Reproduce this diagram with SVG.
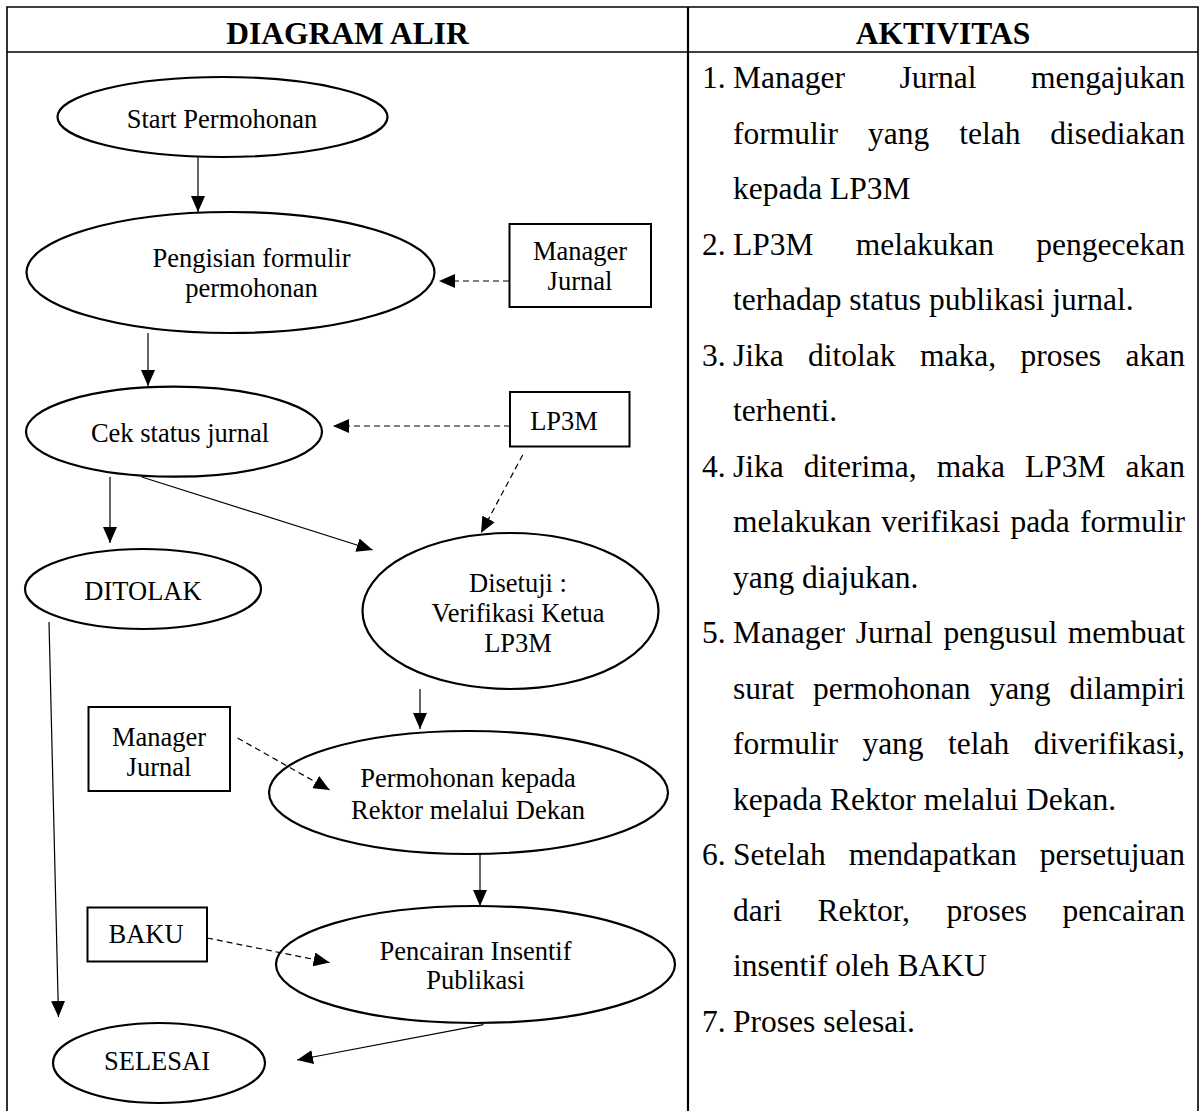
<svg xmlns="http://www.w3.org/2000/svg" width="1202" height="1111" viewBox="0 0 1202 1111">
<defs>
<marker id="ah" viewBox="0 0 16 14" refX="16" refY="7" markerWidth="16" markerHeight="14" markerUnits="userSpaceOnUse" orient="auto">
<path d="M0,0 L16,7 L0,14 Z" fill="#000"/>
</marker>
</defs>
<style>
.tbl{stroke:#000;stroke-width:1.6;fill:none}
.node{fill:#fff;stroke:#000;stroke-width:2.2}
.box{fill:#fff;stroke:#000;stroke-width:2}
.t{font-family:"Liberation Serif","Times New Roman",serif;font-size:26.5px;fill:#000;text-anchor:middle}
.h{font-family:"Liberation Serif","Times New Roman",serif;font-size:31.5px;font-weight:bold;fill:#000;text-anchor:middle}
.r{font-family:"Liberation Serif","Times New Roman",serif;font-size:31.5px;fill:#000}
.e{text-anchor:end}
.c{stroke:#000;stroke-width:1.2;fill:none;marker-end:url(#ah)}
.d{stroke:#000;stroke-width:1.2;fill:none;stroke-dasharray:6 4;marker-end:url(#ah)}
</style>
<rect width="1202" height="1111" fill="#fff"/>
<g id="table">
<path class="tbl" d="M7,1111 V7 H1198 V1111 M7,52 H1198"/>
<path d="M688,7 V1111" stroke="#000" stroke-width="2.2" fill="none"/>
<text class="h" x="347.5" y="44">DIAGRAM ALIR</text>
<text class="h" x="943" y="44">AKTIVITAS</text>
</g>
<g id="start"><ellipse class="node" cx="222.5" cy="117" rx="165" ry="40"/><text class="t" x="222" y="128">Start Permohonan</text></g>
<g id="pengisian"><ellipse class="node" cx="230.5" cy="272.5" rx="204" ry="60.5"/><text class="t" x="251.5" y="267">Pengisian formulir</text><text class="t" x="251.5" y="297">permohonan</text></g>
<g id="manager1"><rect class="box" x="509.5" y="224" width="141.5" height="83"/><text class="t" x="580" y="260">Manager</text><text class="t" x="580" y="290">Jurnal</text></g>
<g id="cek"><ellipse class="node" cx="174" cy="431.7" rx="148" ry="45"/><text class="t" x="180" y="441.5">Cek status jurnal</text></g>
<g id="lp3m"><rect class="box" x="510" y="392" width="119.5" height="54.5"/><text class="t" x="564" y="430">LP3M</text></g>
<g id="ditolak"><ellipse class="node" cx="143" cy="589" rx="118" ry="40"/><text class="t" x="143" y="600">DITOLAK</text></g>
<g id="disetuji"><ellipse class="node" cx="510.5" cy="611" rx="148" ry="78"/><text class="t" x="518" y="591.5">Disetuji :</text><text class="t" x="518" y="621.5">Verifikasi Ketua</text><text class="t" x="518" y="651.5">LP3M</text></g>
<g id="manager2"><rect class="box" x="88.5" y="707" width="141.5" height="84"/><text class="t" x="159" y="746">Manager</text><text class="t" x="159" y="776">Jurnal</text></g>
<g id="permohonan"><ellipse class="node" cx="468.5" cy="792.5" rx="199.5" ry="61.5"/><text class="t" x="468" y="787">Permohonan kepada</text><text class="t" x="468" y="819">Rektor melalui Dekan</text></g>
<g id="baku"><rect class="box" x="87.5" y="907.5" width="119.5" height="54"/><text class="t" x="146" y="943">BAKU</text></g>
<g id="pencairan"><ellipse class="node" cx="475.5" cy="964.5" rx="199.5" ry="58.5"/><text class="t" x="475.5" y="959.5">Pencairan Insentif</text><text class="t" x="475.5" y="988.5">Publikasi</text></g>
<g id="selesai"><ellipse class="node" cx="159" cy="1063" rx="106" ry="40"/><text class="t" x="157" y="1069.5">SELESAI</text></g>
<g id="connectors">
<line class="c" x1="198" y1="157" x2="198" y2="212"/>
<line class="d" x1="509" y1="281" x2="439" y2="281"/>
<line class="c" x1="148" y1="333" x2="148" y2="386"/>
<line class="d" x1="510" y1="426" x2="333" y2="426"/>
<line class="c" x1="110" y1="477" x2="110" y2="543"/>
<line class="c" x1="141.7" y1="477" x2="372.7" y2="550"/>
<line class="d" x1="522.7" y1="455" x2="481" y2="533"/>
<line class="c" x1="49" y1="622" x2="58.5" y2="1017"/>
<line class="c" x1="420" y1="689" x2="420" y2="729"/>
<line class="d" x1="237.6" y1="738" x2="329.6" y2="790"/>
<line class="c" x1="480" y1="854" x2="480" y2="906"/>
<line class="d" x1="207" y1="938" x2="329.6" y2="962.5"/>
<line class="c" x1="483.5" y1="1024.6" x2="297" y2="1060"/>
</g>
<g id="aktivitas">
<text class="r" x="702" y="88">1.</text>
<text class="r" x="733" y="88">Manager</text><text class="r" x="899.5" y="88">Jurnal</text><text class="r e" x="1185" y="88">mengajukan</text>
<text class="r" x="733" y="143.5">formulir</text><text class="r" x="868" y="143.5">yang</text><text class="r" x="959.2" y="143.5">telah</text><text class="r e" x="1185" y="143.5">disediakan</text>
<text class="r" x="733" y="199">kepada LP3M</text>
<text class="r" x="702" y="254.5">2.</text>
<text class="r" x="733" y="254.5">LP3M</text><text class="r" x="855.8" y="254.5">melakukan</text><text class="r e" x="1185" y="254.5">pengecekan</text>
<text class="r" x="733" y="310">terhadap status publikasi jurnal.</text>
<text class="r" x="702" y="365.5">3.</text>
<text class="r" x="733" y="365.5">Jika</text><text class="r" x="808.1" y="365.5">ditolak</text><text class="r" x="920" y="365.5">maka,</text><text class="r" x="1020.5" y="365.5">proses</text><text class="r e" x="1185" y="365.5">akan</text>
<text class="r" x="733" y="421">terhenti.</text>
<text class="r" x="702" y="476.5">4.</text>
<text class="r" x="733" y="476.5">Jika</text><text class="r" x="803.8" y="476.5">diterima,</text><text class="r" x="936.7" y="476.5">maka</text><text class="r" x="1025" y="476.5">LP3M</text><text class="r e" x="1185" y="476.5">akan</text>
<text class="r" x="733" y="532">melakukan</text><text class="r" x="881.3" y="532">verifikasi</text><text class="r" x="1010.4" y="532">pada</text><text class="r e" x="1185" y="532">formulir</text>
<text class="r" x="733" y="587.5">yang diajukan.</text>
<text class="r" x="702" y="643">5.</text>
<text class="r" x="733" y="643">Manager</text><text class="r" x="855.7" y="643">Jurnal</text><text class="r" x="943.4" y="643">pengusul</text><text class="r e" x="1185" y="643">membuat</text>
<text class="r" x="733" y="698.5">surat</text><text class="r" x="813.1" y="698.5">permohonan</text><text class="r" x="989.4" y="698.5">yang</text><text class="r e" x="1185" y="698.5">dilampiri</text>
<text class="r" x="733" y="754">formulir</text><text class="r" x="862.4" y="754">yang</text><text class="r" x="948" y="754">telah</text><text class="r e" x="1185" y="754">diverifikasi,</text>
<text class="r" x="733" y="809.5">kepada Rektor melalui Dekan.</text>
<text class="r" x="702" y="865">6.</text>
<text class="r" x="733" y="865">Setelah</text><text class="r" x="848.8" y="865">mendapatkan</text><text class="r e" x="1185" y="865">persetujuan</text>
<text class="r" x="733" y="920.5">dari</text><text class="r" x="817.5" y="920.5">Rektor,</text><text class="r" x="946.6" y="920.5">proses</text><text class="r e" x="1185" y="920.5">pencairan</text>
<text class="r" x="733" y="976">insentif oleh BAKU</text>
<text class="r" x="702" y="1031.5">7.</text>
<text class="r" x="733" y="1031.5">Proses selesai.</text>
</g>
</svg>
